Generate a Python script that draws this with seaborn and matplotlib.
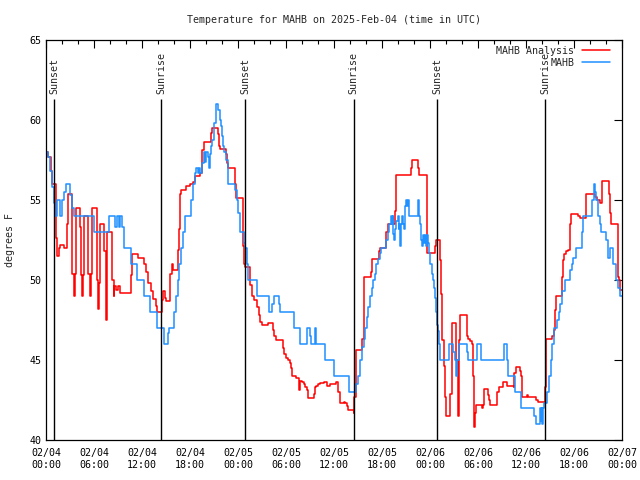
import pandas as pd
import matplotlib
matplotlib.use('Agg')
import matplotlib.pyplot as plt
import matplotlib.dates as mdates
import seaborn as sns

start = pd.Timestamp('2025-02-04 00:00')

# hours after 02/04 00:00 UTC where the value changes (drawn as steps)
analysis_hours = [0.0, 0.3, 0.6, 0.8, 1.3, 1.4, 1.6, 1.7, 2.25, 2.6, 2.7, 2.8, 3.3, 3.55, 3.62, 3.7,
                  4.25, 4.35, 4.55, 4.62, 4.75, 5.3, 5.5, 5.57, 5.8, 6.35, 6.5, 6.57, 6.75, 7.3, 7.5,
                  7.57, 8.3, 8.45, 8.52, 8.75, 9.0, 9.3, 10.6, 10.7, 11.45, 12.3, 12.5, 12.8, 13.1,
                  13.4, 13.7, 13.9, 14.5, 14.67, 14.85, 15.0, 15.55, 15.7, 15.9, 16.55, 16.65, 16.72,
                  16.8, 16.9, 17.5, 17.95, 18.4, 18.65, 19.3, 19.55, 19.75, 20.6, 20.8, 21.45, 21.6,
                  21.75, 22.45, 22.6, 22.75, 23.6, 23.7, 24.6, 24.7, 24.9, 25.55, 25.8, 26.0, 26.4,
                  26.6, 26.8, 27.0, 27.8, 28.4, 28.55, 28.7, 29.6, 29.75, 29.95, 30.3, 30.5, 30.6,
                  30.7, 31.25, 31.65, 31.8, 31.95, 32.2, 32.4, 32.6, 32.7, 32.8, 33.45, 33.6, 33.8,
                  34.0, 34.25, 34.7, 35.1, 35.5, 36.3, 36.5, 36.75, 37.2, 37.4, 37.6, 37.8, 38.45,
                  38.55, 38.7, 38.75, 39.55, 39.7, 40.6, 40.75, 41.65, 41.8, 42.55, 42.8,
                  43.65, 43.75, 45.6, 45.75, 46.55, 46.65, 47.65, 48.65, 48.75, 49.25, 49.4, 49.55,
                  49.7, 49.85, 50.0, 50.55, 50.7, 50.8, 51.3, 51.45, 51.6, 51.8, 52.6, 52.8, 53.0,
                  53.25, 53.4, 53.5, 53.6, 53.75, 54.5, 54.6, 54.7, 54.8, 55.3, 55.4, 55.55, 56.4,
                  56.6, 57.1, 57.6, 58.45, 58.55, 58.7, 59.25, 59.35, 59.55, 60.1, 60.3, 61.3, 61.5,
                  62.35, 62.45, 62.55, 63.3, 63.45, 63.6, 63.7, 63.8, 64.45, 64.6, 64.7, 65.0, 65.3,
                  65.45, 65.55, 65.65, 66.55, 66.75, 67.55, 68.65, 68.85, 69.2, 69.45, 69.55, 70.35,
                  70.45, 70.6, 71.45, 71.55, 71.65, 71.8, 72.0]
analysis_temps = [58.0, 57.7, 56.8, 56.0, 52.6, 51.5, 52.0, 52.2, 52.0, 53.5, 54.5, 55.4, 50.4, 49.0, 50.4, 54.5,
                  53.3, 50.3, 49.0, 50.3, 54.0, 50.4, 49.0, 50.4, 54.5, 50.0, 48.2, 49.8, 53.5, 51.8, 47.5,
                  53.0, 50.0, 49.0, 49.6, 49.4, 49.6, 49.2, 50.3, 51.6, 51.4, 51.0, 50.5, 49.8, 49.3,
                  48.8, 48.4, 48.0, 48.75, 49.3, 48.9, 48.7, 50.4, 51.0, 50.6, 51.9, 53.2, 54.3,
                  55.4, 55.6, 55.9, 56.0, 56.1, 56.5, 56.7, 58.1, 58.6, 59.2, 59.5, 59.1, 58.4,
                  58.2, 57.9, 57.3, 57.0, 56.0, 55.1, 52.1, 51.0, 50.8, 49.7, 49.0, 48.75, 48.3,
                  47.8, 47.4, 47.2, 47.3, 46.9, 46.5, 46.25, 45.75, 45.4, 45.1, 45.0, 44.8, 44.5,
                  44.0, 43.9, 43.1, 43.7, 43.6, 43.5, 43.3, 43.1, 42.7, 42.6, 42.9, 43.3, 43.4,
                  43.5, 43.55, 43.6, 43.4, 43.5, 43.6, 43.0, 42.3, 42.4, 42.3, 42.1, 41.9, 41.7,
                  42.7, 44.6, 45.6, 46.3, 50.2, 50.5, 51.3, 51.8, 52.0, 53.0, 53.5,
                  54.3, 56.56, 57.0, 57.5, 57.0, 56.56, 51.67, 52.1, 52.5, 51.25, 49.1, 46.25,
                  44.6, 42.7, 41.5, 42.9, 45.0, 47.3, 45.0, 41.5, 46.25, 47.8, 46.5, 46.3, 46.2,
                  46.0, 44.0, 40.8, 41.7, 42.2, 42.0, 42.2, 42.9, 43.2, 42.8, 42.5, 42.2, 43.0,
                  43.3, 43.6, 43.4, 43.3, 44.2, 44.55, 44.3, 44.0, 42.7, 42.8, 42.7, 42.5, 42.4,
                  43.3, 45.2, 46.3, 46.5, 46.9, 48.1, 48.75, 49.0, 50.2, 51.25, 51.6, 51.8, 51.9,
                  52.7, 53.5, 54.1, 54.0, 53.9, 55.4, 55.2, 55.0, 54.8, 55.7, 56.2, 55.4,
                  54.2, 53.5, 51.9, 50.2, 50.0, 49.4, 49.4]

obs_hours = [0.0, 0.25, 0.45, 0.75, 1.05, 1.15, 1.35, 1.8, 2.05, 2.3, 2.45, 3.05, 3.3, 3.55, 6.05, 7.9,
             8.58, 8.83, 9.1, 9.25, 9.5, 9.75, 10.65, 11.4, 12.25, 13.05, 13.9, 14.7, 15.2, 15.35,
             16.0, 16.2, 16.45, 16.65, 16.85, 17.1, 17.4, 18.15, 18.35, 18.6, 18.8, 19.0, 19.1, 19.3,
             19.55, 19.75, 19.85, 19.95, 20.25, 20.4, 20.55, 20.65, 20.8, 20.95, 21.05, 21.2, 21.3,
             21.55, 21.7, 21.85, 22.0, 22.15, 22.3, 22.5, 22.75, 23.65, 23.85, 24.0, 24.2, 24.3,
             24.7, 24.85, 25.15, 25.3, 26.4, 27.9, 28.3, 28.55, 29.1, 29.25, 30.95, 31.7, 31.8,
             32.65, 33.0, 33.1, 33.6, 33.8, 34.9, 35.95, 37.9, 38.8, 38.95, 39.2, 39.45, 39.7, 39.9,
             40.1, 40.3, 40.5, 40.7, 40.9, 41.1, 41.3, 41.5, 41.7, 41.9, 42.55, 42.75, 42.9,
             43.1, 43.25, 43.33, 43.4, 43.54, 43.67, 43.75, 43.96, 44.1, 44.17, 44.3, 44.4, 44.5,
             44.67, 44.8, 44.9, 45.0, 45.1, 45.2, 45.33, 46.46, 46.6, 46.67, 46.8, 46.9, 47.0,
             47.1, 47.2, 47.4, 47.5, 47.6, 47.7, 47.83, 48.04, 48.2, 48.33, 48.46, 48.6, 48.75,
             48.9, 48.96, 49.1, 49.25, 50.4, 50.9, 51.1, 51.25, 51.4, 51.6, 52.6, 52.75, 53.85,
             54.4, 57.25, 57.6, 57.8, 58.6, 59.4,
             61.0, 61.2, 61.75, 61.85, 61.95, 62.05, 62.15, 62.3, 62.6, 62.9, 63.1, 63.3, 63.5,
             63.9, 64.1, 64.3, 64.5, 64.9, 65.5, 65.7, 65.9, 66.25, 67.0, 67.15, 68.3, 68.45,
             68.6, 68.8, 68.95, 69.2, 69.35, 70.0, 70.3, 70.45, 70.9, 71.2, 71.5, 71.8, 72.0]
obs_temps = [58, 57.7, 56.8, 55.8, 54.8, 54, 55, 54, 55, 55.5, 56, 55.3, 54.5, 54, 53, 54,
             53.3, 54, 53.3, 54, 53.3, 52, 51, 50, 49, 48, 47, 46, 46.7, 47,
             48, 49, 50, 51, 52, 53, 54, 55, 56, 56.7, 57, 56.7, 57, 56.7,
             57.3, 58, 57.4, 58, 57.7, 57, 57.9, 58.4, 58.75, 59.3, 59.8, 60.3, 61,
             60.6, 60, 59.6, 59, 58.4, 58, 57.5, 56, 55.6, 55, 54.2, 53.5, 53,
             52.3, 52, 51, 50, 49, 48, 48.5, 49, 48.5, 48, 47, 46.5, 46,
             47, 46.5, 46, 47, 46, 45, 44, 43, 43.5, 44, 45, 45.8, 46.3, 47,
             47.7, 48.3, 49, 49.5, 50, 50.4, 51, 51.3, 51.7, 52, 52.5, 53, 53.5,
             54, 53.5, 54, 52.9, 52.5, 53.2, 53.7, 54, 53.2, 53.5, 52.1, 53.5, 54,
             53.5, 53.2, 54.6, 55, 54.6, 55, 54, 55, 54.6, 54, 53.5, 52.5, 52.1,
             52.8, 52.3, 52.8, 52.1, 52.8, 52.3, 51.7, 51, 50.4, 50, 49.5, 48.9, 48,
             47.2, 46.8, 46, 45, 46, 45.5, 45, 44, 45, 46, 45.5, 45, 46,
             45, 46, 45, 44, 43, 42,
             41.5, 41, 42, 41.2, 42, 41, 42, 42.3, 43, 44, 45, 46, 47,
             47.5, 48, 48.5, 49.3, 50, 50.6, 51, 51.4, 52, 53, 54, 55, 56,
             55.5, 55, 54, 53.5, 53, 52.5, 51.4, 52, 51, 50, 49.5, 49, 49]

sun_hours = [1.04, 14.41, 24.91, 38.46, 48.91, 62.41]
sun_labels = ['Sunset', 'Sunrise', 'Sunset', 'Sunrise', 'Sunset', 'Sunrise']

analysis = pd.DataFrame({'time': start + pd.to_timedelta(analysis_hours, unit='h'),
                         'temp': analysis_temps})
obs = pd.DataFrame({'time': start + pd.to_timedelta(obs_hours, unit='h'),
                    'temp': obs_temps})
sun_times = start + pd.to_timedelta(sun_hours, unit='h')

sns.set_theme(style='white')
plt.rcParams['font.family'] = ['DejaVu Sans Mono']
plt.rcParams['font.size'] = 7.2

fig = plt.figure(figsize=(6.4, 4.8), dpi=100)
ax = fig.add_axes([46 / 640, 40 / 480, 576 / 640, 400 / 480])

sns.lineplot(data=analysis, x='time', y='temp', ax=ax, color='#ff0000', lw=1.1,
             drawstyle='steps-post', estimator=None, label='MAHB Analysis')
sns.lineplot(data=obs, x='time', y='temp', ax=ax, color='#1e90ff', lw=1.1,
             drawstyle='steps-post', estimator=None, label='MAHB')

ax.vlines(sun_times, 40, 61.3, color='black', lw=1.0)
for t, lab in zip(sun_times, sun_labels):
    ax.text(t, 61.65, lab, rotation=90, ha='center', va='bottom', fontsize=7.2)

ax.set_xlim(start, start + pd.Timedelta(hours=72))
ax.set_ylim(40, 65)
ax.set_yticks(range(40, 66, 5))
ax.xaxis.set_major_locator(mdates.HourLocator(byhour=range(0, 24, 6)))
ax.xaxis.set_minor_locator(mdates.HourLocator(byhour=range(0, 24, 2)))
ax.xaxis.set_major_formatter(mdates.DateFormatter('%m/%d\n%H:%M'))
ax.tick_params(which='both', direction='in', top=True, right=True, colors='black',
               labelsize=7.2, width=0.8)
ax.tick_params(which='major', length=6)
ax.tick_params(which='minor', length=3)
ax.tick_params(axis='x', which='major', pad=6)
ax.tick_params(axis='y', which='major', pad=3.5)
for s in ax.spines.values():
    s.set_color('black')
    s.set_linewidth(0.9)

ax.set_xlabel('')
ax.set_ylabel('degrees F', fontsize=7.2, labelpad=10)
ax.set_title('Temperature for MAHB on 2025-Feb-04 (time in UTC)', fontsize=7.2, pad=12)

ax.legend(loc='upper right', frameon=False, markerfirst=False, fontsize=7.2,
          handlelength=2.8, handletextpad=0.8, labelspacing=0.2,
          borderaxespad=0.2, bbox_to_anchor=(0.99, 1.0))

fig.savefig('out.png', dpi=100)
